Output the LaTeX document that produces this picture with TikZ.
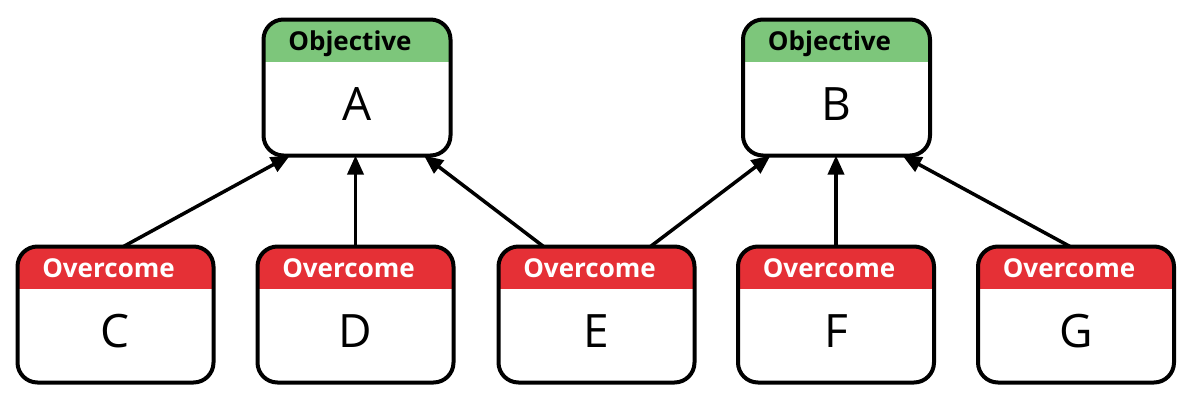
\documentclass[tikz,border=0pt]{standalone}
\usepackage{fontspec}
\setmainfont{Open Sans}
\usetikzlibrary{arrows.meta}

\definecolor{objgreen}{HTML}{7DC67B}
\definecolor{ovred}{HTML}{E53036}

\tikzset{
  card/.style={rectangle, rounded corners=20pt, fill=white, outer sep=0pt, inner sep=0pt, minimum height=136pt},
  cardedge/.style={draw=black, line width=4pt, rounded corners=20pt},
  cardhead/.style={font=\fontsize{26}{26}\selectfont\bfseries, inner sep=0pt, anchor=base},
  cardletter/.style={font=\fontsize{46}{46}\selectfont, inner sep=0pt, anchor=base},
  link/.style={-{Triangle[length=19pt,width=16pt]}, line width=3.5pt},
}

% box with a coloured title strip: name, centre, width, strip colour, title colour, title, letter
\newcommand{\card}[7]{%
  \node[card, minimum width=#3] (#1) at (#2) {};
  \begin{scope}
    \clip[rounded corners=20pt] (#1.south west) rectangle (#1.north east);
    \fill[#4] (#1.north west) rectangle ([yshift=-42pt]#1.north east);
  \end{scope}
  \draw[cardedge] (#1.south west) rectangle (#1.north east);
  \node[cardhead, text=#5] at ([xshift=-7pt,yshift=-31pt]#1.north) {#6};
  \node[cardletter] at ([yshift=-101pt]#1.north) {#7};
}

\begin{document}
\begin{tikzpicture}[x=1pt,y=-1pt]
\useasboundingbox (0,0) rectangle (1192,402);

% objectives
\card{A}{357,87.5}{187pt}{objgreen}{black}{Objective}{A}
\card{B}{836.5,87.5}{187pt}{objgreen}{black}{Objective}{B}

% obstacles
\card{C}{115.5,314.5}{196pt}{ovred}{white}{Overcome}{C}
\card{D}{355.5,314.5}{196pt}{ovred}{white}{Overcome}{D}
\card{E}{596.5,314.5}{196pt}{ovred}{white}{Overcome}{E}
\card{F}{836,314.5}{196pt}{ovred}{white}{Overcome}{F}
\card{G}{1076,314.5}{196pt}{ovred}{white}{Overcome}{G}

% links
\draw[link] ([xshift=8pt]C.north) -- ([xshift=-67pt]A.south);
\draw[link] (D.north) -- (D.north |- A.south);
\draw[link] ([xshift=-53pt]E.north) -- ([xshift=67pt]A.south);
\draw[link] ([xshift=54pt]E.north) -- ([xshift=-66pt]B.south);
\draw[link] (F.north) -- (F.north |- B.south);
\draw[link] ([xshift=-6pt]G.north) -- ([xshift=66pt]B.south);
\end{tikzpicture}
\end{document}
